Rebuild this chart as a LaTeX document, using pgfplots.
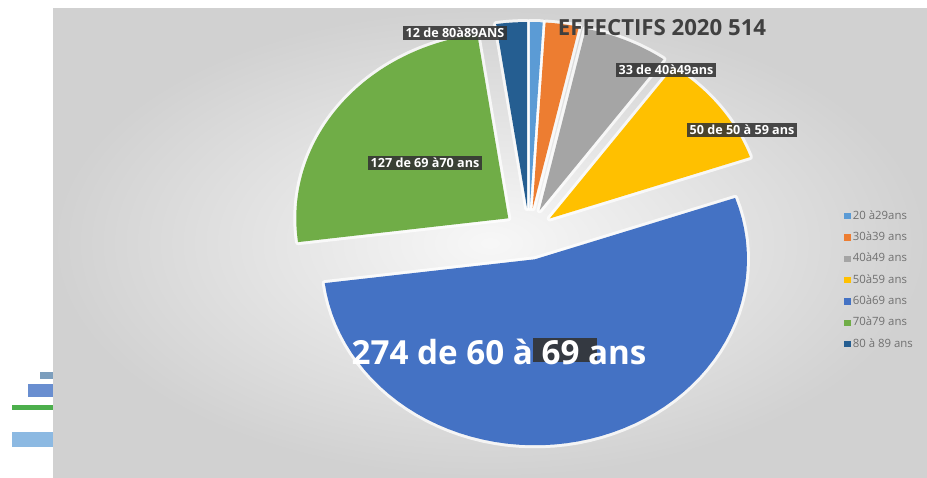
\documentclass[border=0pt]{standalone}
\usepackage{fontspec}
\setmainfont{Open Sans}
\usepackage{pgfplots}
\pgfplotsset{compat=1.18}
\definecolor{c1}{HTML}{5B9BD5}
\definecolor{c2}{HTML}{ED7D31}
\definecolor{c3}{HTML}{A5A5A5}
\definecolor{c4}{HTML}{FFC000}
\definecolor{c5}{HTML}{4472C4}
\definecolor{c6}{HTML}{70AD47}
\definecolor{c7}{HTML}{255E91}
\definecolor{titlegray}{HTML}{404040}
\definecolor{leggray}{HTML}{707070}
% pie geometry (pixel units)
\def\total{514}
\def\cx{529}\def\cy{243}\def\rx{212}\def\ry{186}
\xdef\cum{0}
\newcommand\halo[2]{% value, explode
  \pgfmathsetmacro\aS{90-\cum/\total*360}%
  \pgfmathsetmacro\aE{90-(\cum+#1)/\total*360}%
  \pgfmathsetmacro\aM{(\aS+\aE)/2}%
  \pgfmathsetmacro\ox{\cx+#2*cos(\aM)}%
  \pgfmathsetmacro\oy{\cy+#2*sin(\aM)}%
  \pgfmathsetmacro\newcum{\cum+#1}\xdef\cum{\newcum}%
  \edef\doslice{\noexpand\addplot[forget plot, draw=white, line width=3pt, opacity=0.75, line join=round, fill=none, domain=\aE:\aS, samples=60] ({\ox+\rx*cos(x)},{\oy+\ry*sin(x)}) -- (axis cs:\ox,\oy) -- cycle;}%
  \doslice}
\newcommand\slice[4]{% value, colour, explode, legend
  \pgfmathsetmacro\aS{90-\cum/\total*360}%
  \pgfmathsetmacro\aE{90-(\cum+#1)/\total*360}%
  \pgfmathsetmacro\aM{(\aS+\aE)/2}%
  \pgfmathsetmacro\ox{\cx+#3*cos(\aM)}%
  \pgfmathsetmacro\oy{\cy+#3*sin(\aM)}%
  \pgfmathsetmacro\newcum{\cum+#1}\xdef\cum{\newcum}%
  \edef\doslice{\noexpand\addplot[fill=#2, draw=none, domain=\aE:\aS, samples=60] ({\ox+\rx*cos(x)},{\oy+\ry*sin(x)}) -- (axis cs:\ox,\oy) -- cycle;}%
  \doslice
  \addlegendentry{#4}}
\tikzset{lab/.style={fill=black!80, fill opacity=0.88, text opacity=1, text=white, font=\bfseries\fontsize{6.3}{7}\selectfont, inner sep=1.3pt}}
\begin{document}
\begin{tikzpicture}
\begin{axis}[width=463.5pt, height=238.5pt, scale only axis,
  xmin=0, xmax=927, ymin=0, ymax=477, hide axis, clip=false,
  legend style={at={(axis cs:844,269)}, anchor=north west, draw=none, fill=none,
    font=\fontsize{5.7}{6.4}\selectfont, text=leggray, row sep=2.8pt, inner sep=0pt,
    nodes={inner sep=1pt}},
  legend cell align=left,
  legend image code/.code={\fill[#1] (0pt,-1.6pt) rectangle (3.2pt,1.6pt);}]
\path[fill=white] (axis cs:0,0) rectangle (axis cs:927,477);
\shade[inner color=white!97!black, outer color=white!82!black] (axis cs:53,0) rectangle (axis cs:927,468);
% left-side artefacts
\fill[c7!60!white] (axis cs:40,98) rectangle (axis cs:53,105);
\fill[c5!80!white] (axis cs:28,80) rectangle (axis cs:53,93);
\fill[green!55!black!70] (axis cs:12,67) rectangle (axis cs:53,72);
\fill[c1!70!white] (axis cs:12,30) rectangle (axis cs:53,45);
% halos
\xdef\cum{0}
\halo{5}{26}\halo{13}{26}\halo{33}{26}\halo{50}{26}\halo{274}{26}\halo{127}{26}\halo{12}{26}
% slices
\xdef\cum{0}
\slice{5}{c1}{26}{20 à29ans}
\slice{13}{c2}{26}{30à39 ans}
\slice{33}{c3}{26}{40à49 ans}
\slice{50}{c4}{26}{50à59 ans}
\slice{274}{c5}{26}{60à69 ans}
\slice{127}{c6}{26}{70à79 ans}
\slice{12}{c7}{26}{80 à 89 ans}
% labels
\node[font=\bfseries\fontsize{11.1}{12}\selectfont, text=titlegray] at (axis cs:662,449) {EFFECTIFS 2020 514};
\node[lab] at (axis cs:455,444) {12 de 80à89ANS};
\node[lab] at (axis cs:666,407) {33 de 40à49ans};
\node[lab] at (axis cs:742,347) {50 de 50 à 59 ans};
\node[lab] at (axis cs:425,314) {127 de 69 à70 ans};
\fill[black!80, opacity=0.9] (axis cs:533,115) rectangle (axis cs:597,139);
\node[text=white, font=\bfseries\fontsize{16.6}{18}\selectfont] at (axis cs:499,125) {274 de 60 à 69 ans};
\end{axis}
\end{tikzpicture}
\end{document}
